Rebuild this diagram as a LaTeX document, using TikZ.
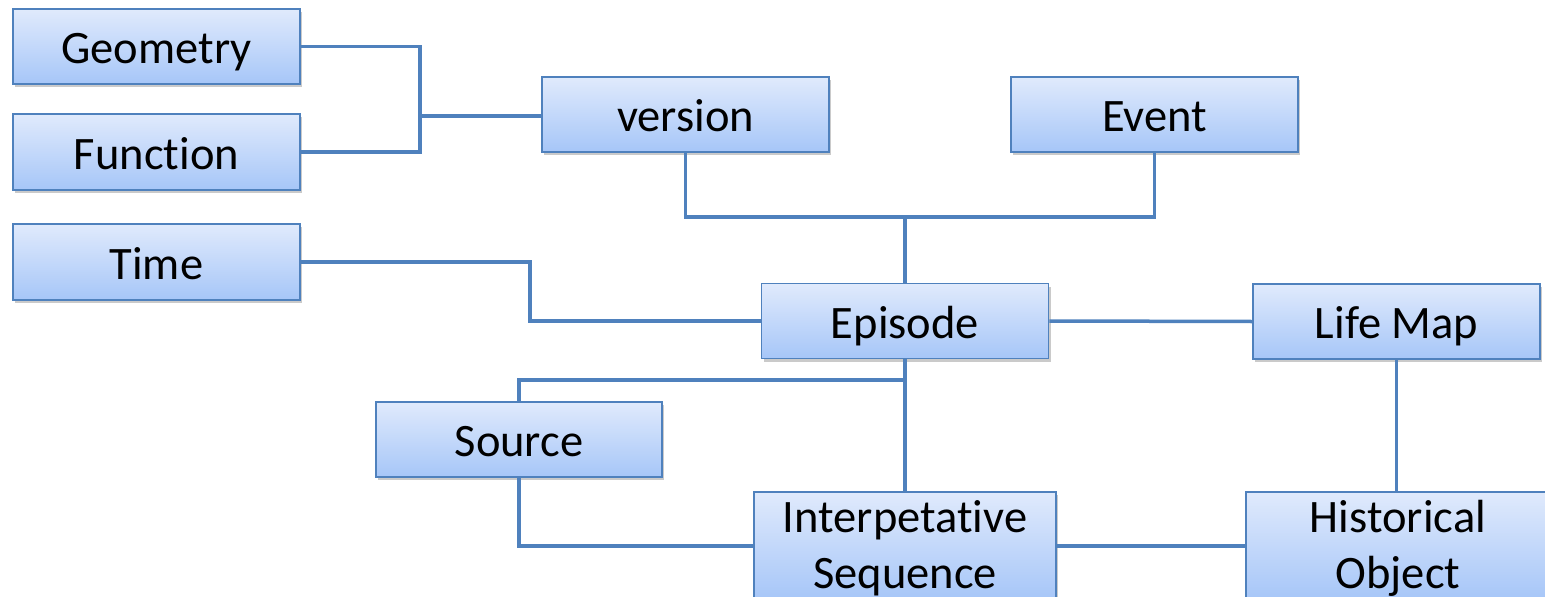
\documentclass[tikz,border=0pt]{standalone}
\usepackage{fontspec}
\setmainfont[Ligatures=NoCommon]{Carlito}
\usetikzlibrary{shadows}
\definecolor{lineblue}{HTML}{4F81BD}
\definecolor{topfill}{HTML}{E0EAFC}
\definecolor{botfill}{HTML}{A6C6F8}
\tikzset{
  boxnode/.style={rectangle, draw=lineblue, line width=1.5pt, top color=topfill, bottom color=botfill,
    inner sep=0pt, minimum width=287pt, minimum height=75pt, align=center,
    font=\fontsize{46.5}{55.5}\selectfont,
    drop shadow={shadow xshift=2pt, shadow yshift=-3pt, opacity=0.35, fill=black!60}},
  onebox/.style={boxnode,
    execute at begin node={\rule{0pt}{45pt}},
    execute at end node={\rule[-11pt]{0pt}{11pt}}},
  link/.style={draw=lineblue, line width=3.5pt}
}
\begin{document}
\begin{tikzpicture}[x=1pt,y=-1pt]
\useasboundingbox (0,0) rectangle (1545,597);
\clip (0,0) rectangle (1545,597);
\node[onebox] (geom) at (156.5,46.5) {Geometry};
\node[onebox, minimum height=76pt] (func) at (156.5,152) {Function};
\node[onebox, minimum height=76pt] (time) at (156.5,262) {Time};
\node[onebox] (version) at (685.5,114.5) {version};
\node[onebox] (event) at (1154.5,114.5) {Event};
\node[onebox] (episode) at (905,321) {Episode};
\node[onebox] (lifemap) at (1396.5,321.5) {Life Map};
\node[onebox, minimum width=286pt] (source) at (519,439.5) {Source};
\node[boxnode, minimum width=302pt, minimum height=108pt] (interp) at (905,546)
  {\rule{0pt}{40pt}Interpetative\\Sequence\rule[-11pt]{0pt}{11pt}};
\node[boxnode, minimum width=304pt, minimum height=108pt] (hist) at (1398,546)
  {\rule{0pt}{40pt}Historical\\Object\rule[-11pt]{0pt}{11pt}};

\coordinate (j1) at (420,116);
\coordinate (j2) at (905,217);
\coordinate (j3) at (530,321);
\coordinate (j4) at (905,380);

\draw[link] (geom.east) -| (j1) |- (func.east);
\draw[link] (j1) -- (j1 -| version.west);
\draw[link] (version.south) |- (j2) -| (event.south);
\draw[link] (j2) -- (episode.north);
\draw[link] (time.east) -| (j3) -- (episode.west);
\draw[link] (episode.east) -- (lifemap.west);
\draw[link] (episode.south) -- (interp.north);
\draw[link] (j4) -| (source.north);
\draw[link] (source.south) |- (interp.west);
\draw[link] (interp.east) -- (hist.west);
\draw[link] (lifemap.south) -- (lifemap.south |- hist.north);
\end{tikzpicture}
\end{document}
